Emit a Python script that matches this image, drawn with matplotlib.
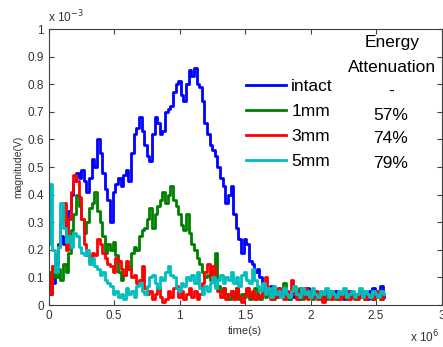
import numpy as np
import matplotlib
matplotlib.use("Agg")
import matplotlib.pyplot as plt
from matplotlib.ticker import FuncFormatter

plt.rcParams['font.family'] = ['Liberation Sans', 'DejaVu Sans']

# tiempo en unidades de 1e6, magnitud en unidades de 1e-3
t = np.round(np.arange(0, 2.57, 0.02), 2)

intact = [0.10, 0.04, 0.08, 0.15, 0.22, 0.25, 0.22, 0.30, 0.34, 0.40,
          0.45, 0.48, 0.46, 0.49, 0.45, 0.41, 0.46, 0.53, 0.50, 0.60,
          0.55, 0.48, 0.42, 0.38, 0.30, 0.41, 0.44, 0.46, 0.43, 0.47,
          0.49, 0.45, 0.55, 0.62, 0.64, 0.68, 0.63, 0.58, 0.54, 0.52,
          0.62, 0.68, 0.66, 0.62, 0.63, 0.70, 0.71, 0.72, 0.77, 0.80,
          0.81, 0.76, 0.74, 0.80, 0.85, 0.83, 0.86, 0.80, 0.79, 0.74,
          0.66, 0.62, 0.58, 0.56, 0.54, 0.50, 0.46, 0.43, 0.37, 0.40,
          0.43, 0.33, 0.28, 0.24, 0.19, 0.24, 0.22, 0.16, 0.15, 0.12,
          0.13, 0.10, 0.08, 0.06, 0.04, 0.07, 0.05, 0.03, 0.06, 0.04,
          0.03, 0.05, 0.02, 0.04, 0.03, 0.05, 0.02, 0.04, 0.03, 0.06,
          0.04, 0.03, 0.05, 0.03, 0.04, 0.02, 0.05, 0.03, 0.04, 0.03,
          0.05, 0.03, 0.04, 0.02, 0.04, 0.05, 0.03, 0.04, 0.03, 0.05,
          0.03, 0.04, 0.02, 0.05, 0.06, 0.03, 0.04, 0.07, 0.03]

mm1 = [0.12, 0.08, 0.14, 0.10, 0.13, 0.09, 0.15, 0.12, 0.19, 0.27,
       0.33, 0.40, 0.36, 0.31, 0.26, 0.30, 0.35, 0.37, 0.41, 0.34,
       0.30, 0.25, 0.19, 0.22, 0.20, 0.23, 0.18, 0.12, 0.09, 0.11,
       0.14, 0.13, 0.19, 0.21, 0.20, 0.25, 0.27, 0.28, 0.31, 0.35,
       0.28, 0.33, 0.36, 0.38, 0.41, 0.37, 0.40, 0.43, 0.38, 0.36,
       0.33, 0.29, 0.27, 0.33, 0.26, 0.22, 0.20, 0.17, 0.15, 0.12,
       0.10, 0.11, 0.09, 0.12, 0.19, 0.07, 0.05, 0.06, 0.04, 0.02,
       0.05, 0.03, 0.06, 0.02, 0.04, 0.03, 0.05, 0.02, 0.04, 0.06,
       0.03, 0.02, 0.05, 0.03, 0.04, 0.06, 0.02, 0.03, 0.05, 0.04,
       0.08, 0.03, 0.02, 0.04, 0.05, 0.03, 0.06, 0.02, 0.04, 0.03,
       0.05, 0.02, 0.04, 0.03, 0.05, 0.04, 0.02, 0.03, 0.05, 0.03,
       0.02, 0.04, 0.03, 0.05, 0.02, 0.04, 0.03, 0.02, 0.04, 0.03,
       0.05, 0.02, 0.03, 0.04, 0.02, 0.03, 0.05, 0.02, 0.04]

mm3 = [0.10, 0.04, 0.14, 0.18, 0.21, 0.30, 0.37, 0.20, 0.31, 0.41,
       0.47, 0.45, 0.39, 0.31, 0.22, 0.18, 0.16, 0.19, 0.18, 0.24,
       0.22, 0.19, 0.17, 0.15, 0.14, 0.12, 0.17, 0.16, 0.13, 0.11,
       0.16, 0.13, 0.10, 0.11, 0.08, 0.09, 0.14, 0.06, 0.04, 0.05,
       0.02, 0.04, 0.06, 0.03, 0.01, 0.02, 0.05, 0.03, 0.06, 0.07,
       0.03, 0.05, 0.02, 0.04, 0.06, 0.03, 0.05, 0.02, 0.04, 0.08,
       0.12, 0.15, 0.10, 0.14, 0.07, 0.05, 0.03, 0.06, 0.02, 0.04,
       0.05, 0.02, 0.06, 0.03, 0.01, 0.04, 0.06, 0.03, 0.05, 0.02,
       0.04, 0.03, 0.06, 0.10, 0.04, 0.02, 0.05, 0.03, 0.06, 0.04,
       0.02, 0.05, 0.03, 0.09, 0.04, 0.02, 0.05, 0.03, 0.06, 0.02,
       0.04, 0.03, 0.05, 0.02, 0.04, 0.01, 0.03, 0.05, 0.02, 0.04,
       0.03, 0.02, 0.04, 0.03, 0.05, 0.02, 0.03, 0.04, 0.02, 0.05,
       0.03, 0.02, 0.04, 0.03, 0.02, 0.04, 0.05, 0.02, 0.04]

mm5 = [0.22, 0.44, 0.20, 0.12, 0.21, 0.37, 0.28, 0.23, 0.25, 0.21,
       0.26, 0.25, 0.21, 0.19, 0.18, 0.20, 0.15, 0.17, 0.14, 0.13,
       0.11, 0.12, 0.09, 0.08, 0.07, 0.04, 0.05, 0.03, 0.04, 0.02,
       0.06, 0.04, 0.05, 0.03, 0.07, 0.08, 0.05, 0.04, 0.07, 0.10,
       0.11, 0.08, 0.06, 0.10, 0.09, 0.12, 0.14, 0.11, 0.10, 0.06,
       0.05, 0.08, 0.07, 0.10, 0.09, 0.11, 0.08, 0.12, 0.06, 0.04,
       0.07, 0.05, 0.08, 0.10, 0.06, 0.09, 0.11, 0.08, 0.10, 0.09,
       0.12, 0.08, 0.10, 0.07, 0.11, 0.12, 0.09, 0.08, 0.13, 0.09,
       0.07, 0.05, 0.08, 0.04, 0.06, 0.03, 0.07, 0.04, 0.05, 0.03,
       0.06, 0.04, 0.03, 0.05, 0.07, 0.04, 0.03, 0.06, 0.04, 0.05,
       0.03, 0.06, 0.04, 0.03, 0.05, 0.04, 0.06, 0.03, 0.05, 0.04,
       0.03, 0.05, 0.04, 0.06, 0.03, 0.04, 0.05, 0.03, 0.04, 0.06,
       0.03, 0.05, 0.04, 0.03, 0.05, 0.04, 0.03, 0.05, 0.04]

labels = ['intact', '1mm', '3mm', '5mm']
atten = ['-', '57%', '74%', '79%']
colors = [(0, 0, 1), (0, 0.5, 0), (1, 0, 0), (0, 0.75, 0.75)]

gris = '#404040'
fig = plt.figure(figsize=(4.43, 3.47), dpi=100)
ax = fig.add_axes([48.5 / 443, 42 / 347, 393 / 443, 276 / 347])

for serie, lab, col in zip([intact, mm1, mm3, mm5], labels, colors):
    ax.plot(t * 1e6, np.array(serie) * 1e-3, color=col, lw=2,
            drawstyle='steps-mid', label=lab)

ax.set_xlim(0, 3e6)
ax.set_ylim(0, 1e-3)
ax.set_xticks(np.arange(0, 3.01e6, 0.5e6))
ax.set_yticks(np.arange(0, 1.01e-3, 0.1e-3))
ax.xaxis.set_major_formatter(FuncFormatter(lambda v, p: '%g' % round(v / 1e6, 2)))
ax.yaxis.set_major_formatter(FuncFormatter(lambda v, p: '%g' % round(v / 1e-3, 2)))
ax.tick_params(direction='in', top=True, right=True, length=3.5, width=0.8,
               labelsize=8.5, colors=gris, labelcolor='#333333')
for s in ax.spines.values():
    s.set_color(gris)
    s.set_linewidth(0.8)

# factores de escala como en matlab
fig.text(48 / 443, 1 - 17 / 347, 'x 10$^{-3}$', ha='left', va='center',
         fontsize=8.5, color='#333333')
fig.text(439 / 443, 1 - 337 / 347, 'x 10$^{6}$', ha='right', va='center',
         fontsize=8.5, color='#333333')

ax.set_xlabel('time(s)', fontsize=8, color='#333333', labelpad=3)
ax.set_ylabel('magnitude(V)', fontsize=7.5, color='#333333', labelpad=3)

leg = ax.legend(loc='upper left', bbox_to_anchor=(246 / 443, 1 - 79 / 347),
                bbox_transform=fig.transFigure, frameon=False, fontsize=12.5,
                handlelength=2.3, handletextpad=0.3, labelspacing=0.56,
                borderpad=0, borderaxespad=0)
for h in leg.get_lines():
    h.set_linewidth(2)

fig.text(392 / 443, 1 - 43 / 347, 'Energy', ha='center', va='center', fontsize=12.5)
fig.text(392 / 443, 1 - 67 / 347, 'Attenuation', ha='center', va='center', fontsize=12.5)
for i, a in enumerate(atten):
    fig.text(391 / 443, 1 - (91 + 24 * i) / 347, a, ha='center', va='center',
             fontsize=12.5)

plt.savefig('out.png', dpi=100)
